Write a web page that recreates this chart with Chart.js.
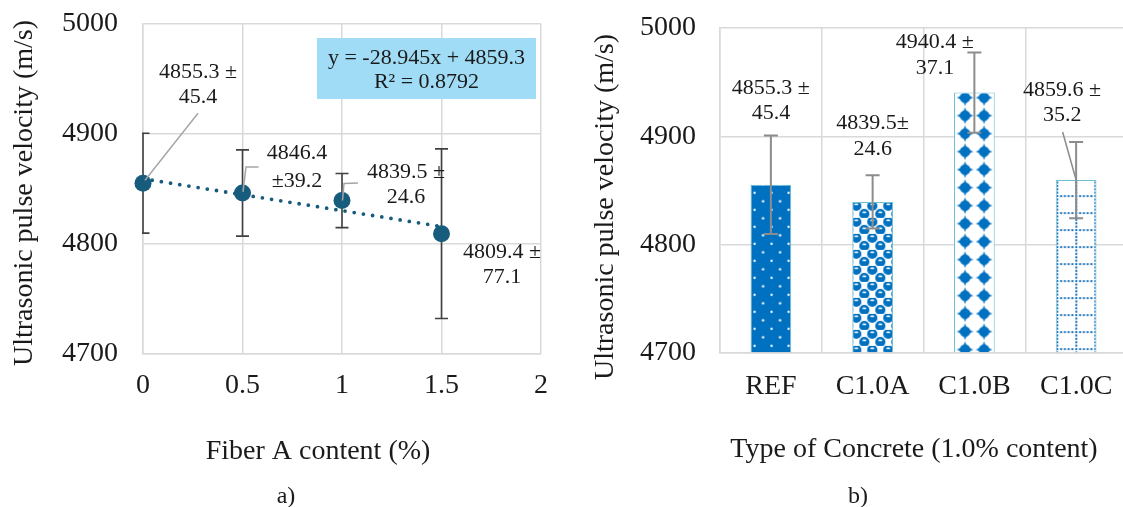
<!DOCTYPE html>
<html lang="en">
<head>
<meta charset="utf-8">
<title>Ultrasonic pulse velocity</title>
<script src="https://cdn.jsdelivr.net/npm/chart.js@4.4.1/dist/chart.umd.min.js"></script>
<style>
  html, body { margin: 0; padding: 0; background: #fff; overflow: hidden; }
  .panel { position: absolute; top: 0; }
  #panelA { left: 0; }
  #panelB { left: 560px; }
</style>
</head>
<body>
<div id="panelA" class="panel"><canvas id="fiberChart" width="560" height="507"></canvas></div>
<div id="panelB" class="panel"><canvas id="concreteChart" width="567" height="507"></canvas></div>

<script>
// a) UPV against fiber A content
const fiberContent = [0, 0.5, 1, 1.5];
const fiberUpv = [4855.3, 4846.4, 4839.5, 4809.4];
const fiberUpvSd = [45.4, 39.2, 24.6, 77.1];
const fiberTicks = [0, 0.5, 1, 1.5, 2];

// linear trend of a)
const trendSlope = -28.945;
const trendIntercept = 4859.3;
const trendR2 = 0.8792;

// b) UPV per concrete type, 1.0 % content
const concreteTypes = ['REF', 'C1.0A', 'C1.0B', 'C1.0C'];
const concreteUpv = [4855.3, 4839.5, 4940.4, 4859.6];
const concreteUpvSd = [45.4, 24.6, 37.1, 35.2];

const upvTicks = [4700, 4800, 4900, 5000];

const SERIF = '"Liberation Serif", "Times New Roman", serif';
const INK = '#1a1a1a';
const GRID = '#d9d9d9';
const BLUE = '#0070c0';
const TEAL = '#175c7c';
const LEADER = '#a6a6a6';

Chart.defaults.font.family = SERIF;
Chart.defaults.color = INK;

function text(ctx, str, x, y, size, rotate) {
  ctx.save();
  ctx.font = size + 'px ' + SERIF;
  ctx.fillStyle = INK;
  ctx.textAlign = 'center';
  ctx.textBaseline = 'middle';
  ctx.translate(x, y);
  if (rotate) ctx.rotate(rotate);
  ctx.fillText(str, 0, 0);
  ctx.restore();
}

function polyline(ctx, pts, color, width) {
  ctx.save();
  ctx.strokeStyle = color;
  ctx.lineWidth = width;
  ctx.beginPath();
  pts.forEach((p, i) => i ? ctx.lineTo(p[0], p[1]) : ctx.moveTo(p[0], p[1]));
  ctx.stroke();
  ctx.restore();
}

function drawErrorBars(chart, means, sds, style) {
  const { ctx, chartArea: a } = chart;
  const y = chart.scales.y;
  const els = chart.getDatasetMeta(0).data;
  ctx.save();
  if (style.clip) {
    ctx.beginPath();
    ctx.rect(a.left - 1, a.top, a.right - a.left + 1, a.bottom - a.top);
    ctx.clip();
  }
  ctx.strokeStyle = style.color;
  ctx.lineWidth = style.width;
  els.forEach((el, i) => {
    const top = y.getPixelForValue(means[i] + sds[i]);
    const bot = y.getPixelForValue(means[i] - sds[i]);
    const h = style.cap / 2;
    ctx.beginPath();
    ctx.moveTo(el.x, top); ctx.lineTo(el.x, bot);
    ctx.moveTo(el.x - h, top); ctx.lineTo(el.x + h, top);
    ctx.moveTo(el.x - h, bot); ctx.lineTo(el.x + h, bot);
    ctx.stroke();
  });
  ctx.restore();
}

// "4855.3 ±" / "45.4" and the other two ways the labels are broken
function valueLines(v, sd, split) {
  const m = v.toFixed(1), s = sd.toFixed(1);
  if (split === 'lead') return [m, '±' + s];
  if (split === 'tight') return [m + '±', s];
  return [m + ' ±', s];
}

// fixed-size axis boxes so the plot areas land where they should
function fitY(width) {
  return s => { s.width = width; s.paddingTop = 0; s.paddingBottom = 0; };
}
function fitX(height) {
  return s => { s.height = height; s.paddingLeft = 0; s.paddingRight = 0; };
}

function tickAxis(ticks, extra) {
  return Object.assign({
    afterBuildTicks: s => { s.ticks = ticks.map(value => ({ value })); },
    grid: { color: GRID, lineWidth: 1.5, drawTicks: false },
    border: { color: GRID, width: 1.5 },
  }, extra);
}

/* ---------- a) ---------- */
const fiberLabels = [
  { split: 'tail', dx: 55, dy: [-111, -86] },
  { split: 'lead', dx: 54.5, dy: [-40, -12] },
  { split: 'tail', dx: 64, dy: [-28.5, -3.5] },
  { split: 'tail', dx: 60.5, dy: [18.3, 43.3] },
];
const fiberLeaders = [
  [[2, -3], [55, -70]],
  [[0.5, -1], [3.5, -26], [16, -26]],
  [[0.5, 0], [2, -17], [16, -17.5]],
  null,
];

const fiberNotes = {
  id: 'fiberNotes',
  beforeDatasetsDraw(chart) {
    drawErrorBars(chart, fiberUpv, fiberUpvSd, { color: '#404040', width: 1.6, cap: 13, clip: true });
  },
  afterDatasetsDraw(chart) {
    const { ctx, chartArea: a } = chart;
    const pts = chart.getDatasetMeta(0).data;
    pts.forEach((p, i) => {
      const lead = fiberLeaders[i];
      if (lead) polyline(ctx, lead.map(o => [p.x + o[0], p.y + o[1]]), LEADER, 1.5);
      const lab = fiberLabels[i];
      valueLines(fiberUpv[i], fiberUpvSd[i], lab.split).forEach((t, k) => {
        text(ctx, t, p.x + lab.dx, p.y + lab.dy[k], 22);
      });
    });
    // trendline equation box
    const bw = 219, bh = 61, bx = a.right - 5 - bw, by = a.top + 14;
    ctx.save();
    ctx.fillStyle = '#a0dcf5';
    ctx.fillRect(bx, by, bw, bh);
    ctx.restore();
    const sign = trendIntercept >= 0 ? ' + ' : ' - ';
    text(ctx, 'y = ' + trendSlope + 'x' + sign + Math.abs(trendIntercept), bx + bw / 2, by + 20, 22);
    text(ctx, 'R² = ' + trendR2, bx + bw / 2, by + 44, 22);
  },
  afterDraw(chart) {
    const ctx = chart.ctx;
    text(ctx, 'Ultrasonic pulse velocity (m/s)', 25, 193, 28, -Math.PI / 2);
    text(ctx, 'Fiber A content (%)', 318, 452, 28);
    text(ctx, 'a)', 286, 497, 24);
  }
};

new Chart(document.getElementById('fiberChart'), {
  type: 'scatter',
  data: {
    datasets: [
      {
        label: 'UPV',
        data: fiberContent.map((x, i) => ({ x, y: fiberUpv[i] })),
        backgroundColor: TEAL,
        borderWidth: 0,
        pointRadius: 8.5,
        pointHoverRadius: 8.5,
        clip: false,
      },
      {
        label: 'Linear trend',
        data: [0, fiberContent[fiberContent.length - 1]].map(x => ({ x, y: trendSlope * x + trendIntercept })),
        showLine: true,
        borderColor: TEAL,
        borderWidth: 3.8,
        borderDash: [0, 9.3],
        borderCapStyle: 'round',
        pointRadius: 0,
      }
    ]
  },
  options: {
    responsive: false,
    animation: false,
    layout: { padding: { top: 24, right: 19, bottom: 0, left: 0 } },
    plugins: { legend: { display: false }, tooltip: { enabled: false } },
    scales: {
      x: tickAxis(fiberTicks, {
        type: 'linear', min: 0, max: 2,
        afterFit: fitX(153),
        ticks: { font: { size: 28 }, color: INK, padding: 15, callback: v => String(v) },
      }),
      y: tickAxis(upvTicks, {
        min: 4700, max: 5000,
        afterFit: fitY(143),
        ticks: { font: { size: 28 }, color: INK, padding: 25, callback: v => String(v) },
      }),
    }
  },
  plugins: [fiberNotes]
});

/* ---------- b) ---------- */
const concreteCtx = document.getElementById('concreteChart').getContext('2d');

function tile(w, h, paint) {
  const c = document.createElement('canvas');
  c.width = w; c.height = h;
  const g = c.getContext('2d');
  paint(g);
  return concreteCtx.createPattern(c, 'repeat');
}

function dot(g, x, y, r) {
  g.beginPath(); g.arc(x, y, r, 0, Math.PI * 2); g.fill();
}

const concretePatterns = [
  // REF: solid with small white dots
  tile(17, 17, g => {
    g.fillStyle = BLUE; g.fillRect(0, 0, 17, 17);
    g.fillStyle = '#fff';
    dot(g, 4, 4, 1.2); dot(g, 12.5, 12.5, 1.2);
  }),
  // C1.0A: checkered spheres
  tile(16, 16, g => {
    g.fillStyle = '#fff'; g.fillRect(0, 0, 16, 16);
    g.fillStyle = BLUE;
    [[4, 4], [12, 12], [-4, 12], [20, 4], [4, -12], [12, 20], [-4, -4], [20, 20], [20, -4], [-4, 20]]
      .forEach(([x, y]) => dot(g, x, y, 5.1));
    g.fillStyle = '#fff';
    [[4, 4], [12, 12]].forEach(([x, y]) => {
      g.beginPath(); g.ellipse(x, y - 1.6, 2, 0.9, 0, 0, Math.PI * 2); g.fill();
    });
  }),
  // C1.0B: solid diamonds
  tile(19, 18, g => {
    g.fillStyle = '#fff'; g.fillRect(0, 0, 19, 18);
    g.fillStyle = BLUE;
    g.beginPath();
    g.moveTo(9.5, 0.8); g.quadraticCurveTo(11.2, 7.3, 17.8, 9);
    g.quadraticCurveTo(11.2, 10.7, 9.5, 17.2); g.quadraticCurveTo(7.8, 10.7, 1.2, 9);
    g.quadraticCurveTo(7.8, 7.3, 9.5, 0.8);
    g.closePath(); g.fill();
    dot(g, 9.5, 9, 5.3);
  }),
  // C1.0C: dotted grid
  tile(19, 17, g => {
    g.fillStyle = '#fff'; g.fillRect(0, 0, 19, 17);
    g.fillStyle = '#1a72bc';
    for (let y = 0; y < 17; y += 3.4) g.fillRect(0, y, 2, 2);
    for (let x = 3.8; x < 19; x += 3.8) g.fillRect(x, 0, 2, 2);
  }),
];
const patternAnchor = [[0, 4], [0, 0], [1.5, -4], [0.5, -2]];

const concreteLabels = [
  { split: 'tail', dx: 0, dy: [-47.6, -22.6] },
  { split: 'tight', dx: 0, dy: [-52, -26] },
  { split: 'tail', dx: -39.5, dy: [-10.4, 15.6] },
  { split: 'tail', dx: -14, dy: [-52, -27] },
];
const concreteLeaders = [null, null, null, [[-13.5, -10], [0, 38]]];

const concreteNotes = {
  id: 'concreteNotes',
  beforeDatasetsDraw(chart) {
    chart.getDatasetMeta(0).data.forEach((bar, i) => {
      const left = bar.x - bar.width / 2;
      const a = patternAnchor[i];
      concretePatterns[i].setTransform(new DOMMatrix().translate(left + a[0], bar.y + a[1]));
    });
  },
  afterDatasetsDraw(chart) {
    const { ctx } = chart;
    drawErrorBars(chart, concreteUpv, concreteUpvSd, { color: '#8c8c8c', width: 2, cap: 14 });
    const y = chart.scales.y;
    chart.getDatasetMeta(0).data.forEach((bar, i) => {
      const top = y.getPixelForValue(concreteUpv[i] + concreteUpvSd[i]);
      const lead = concreteLeaders[i];
      if (lead) polyline(ctx, lead.map(o => [bar.x + o[0], top + o[1]]), '#8c8c8c', 1.5);
      const lab = concreteLabels[i];
      valueLines(concreteUpv[i], concreteUpvSd[i], lab.split).forEach((t, k) => {
        text(ctx, t, bar.x + lab.dx, top + lab.dy[k], 22);
      });
    });
  },
  afterDraw(chart) {
    const ctx = chart.ctx;
    text(ctx, 'Ultrasonic pulse velocity (m/s)', 46, 207, 28, -Math.PI / 2);
    text(ctx, 'Type of Concrete (1.0% content)', 354, 450, 28);
    text(ctx, 'b)', 298, 497, 24);
  }
};

new Chart(concreteCtx, {
  type: 'bar',
  data: {
    labels: concreteTypes,
    datasets: [{
      label: 'UPV',
      data: concreteUpv,
      base: 4700,
      backgroundColor: concretePatterns,
      borderColor: '#6dbfd2',
      borderWidth: 1,
      barPercentage: 0.4,
      categoryPercentage: 1,
    }]
  },
  options: {
    responsive: false,
    animation: false,
    layout: { padding: { top: 28, right: 0, bottom: 0, left: 0 } },
    plugins: { legend: { display: false }, tooltip: { enabled: false } },
    scales: {
      x: {
        afterFit: fitX(154),
        grid: { color: GRID, lineWidth: 1.5, drawTicks: false },
        border: { color: GRID, width: 1.5 },
        ticks: { font: { size: 28 }, color: INK, padding: 17 },
      },
      y: tickAxis(upvTicks, {
        min: 4700, max: 5000,
        afterFit: fitY(160),
        ticks: { font: { size: 28 }, color: INK, padding: 24, callback: v => String(v) },
      }),
    }
  },
  plugins: [concreteNotes]
});
</script>
</body>
</html>
